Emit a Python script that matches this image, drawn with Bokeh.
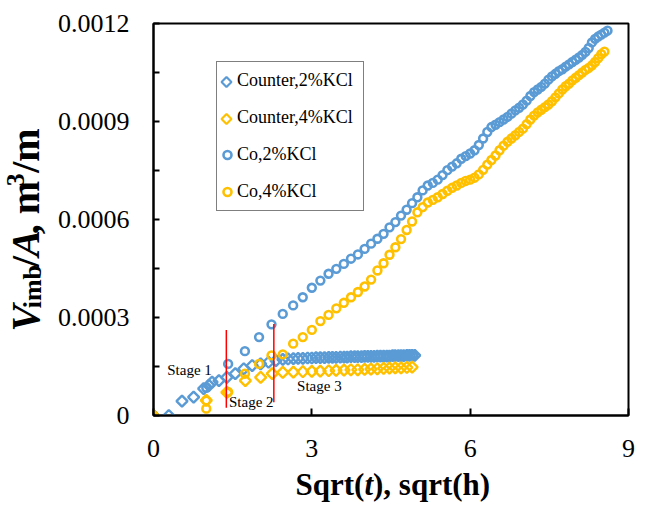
import numpy as np
from bokeh.plotting import figure
from bokeh.layouts import row, column
from bokeh.models import (Range1d, FixedTicker, PrintfTickFormatter, Legend, LegendItem)
from bokeh.embed import file_html
from bokeh.resources import INLINE
from bokeh.core.properties import value

# ---------------- data ----------------
# Counter-current, 2% KCl (blue diamonds)
counter2_x = [0, 0.29, 0.54, 0.76, 0.95, 1.05, 1.11, 1.24, 1.39, 1.55, 1.71, 1.87, 2.03, 2.18, 2.32, 2.45,
              2.55, 2.65, 2.74, 2.83, 2.92, 3.0, 3.08, 3.16, 3.24, 3.32, 3.39, 3.46, 3.54, 3.61, 3.67, 3.74,
              3.81, 3.87, 3.94, 4.0, 4.06, 4.12, 4.18, 4.24, 4.30, 4.36, 4.42, 4.47, 4.53, 4.58, 4.64, 4.69,
              4.74, 4.80, 4.85, 4.90, 4.95]
counter2_y = [0, 0, 0.000044, 0.000056, 0.000082, 0.000092, 0.000102, 0.000107, 0.000117, 0.000128, 0.000143,
              0.000153, 0.000158, 0.000163, 0.000168, 0.000172,
              0.000173, 0.000174, 0.000175, 0.000175, 0.000176, 0.000176, 0.000177, 0.000177, 0.000177, 0.000178,
              0.000178, 0.000178, 0.000179, 0.000179, 0.000179, 0.000180, 0.000180, 0.000180, 0.000180, 0.000181,
              0.000181, 0.000181, 0.000181, 0.000182, 0.000182, 0.000182, 0.000182, 0.000182, 0.000183, 0.000183,
              0.000183, 0.000183, 0.000183, 0.000184, 0.000184, 0.000184, 0.000184]

# Counter-current, 4% KCl (yellow diamonds)
counter4_x = [0, 1.0, 1.39, 1.74, 2.03, 2.25, 2.45, 2.65, 2.83, 3.0, 3.16, 3.32, 3.46, 3.61, 3.74, 3.87,
              4.0, 4.12, 4.24, 4.36, 4.47, 4.58, 4.69, 4.80, 4.90]
counter4_y = [0, 0.000046, 0.000071, 0.000107, 0.000117, 0.000128, 0.000132, 0.000133, 0.000134, 0.000135,
              0.000136, 0.000137, 0.000138, 0.000139, 0.000140, 0.000140, 0.000141, 0.000142, 0.000143,
              0.000144, 0.000145, 0.000146, 0.000146, 0.000147, 0.000148]

# Co-current, 2% KCl (blue circles)
co2_x = [0, 1.0, 1.414, 1.732, 2.0, 2.236, 2.449, 2.646, 2.828, 3.0, 3.162, 3.317, 3.464, 3.606, 3.742, 3.873,
         4.0, 4.123, 4.243, 4.359, 4.472, 4.583, 4.690, 4.796, 4.899, 5.0, 5.099, 5.196,
         5.292, 5.385, 5.477, 5.568, 5.657, 5.745, 5.831, 5.916, 6.0, 6.083, 6.164, 6.245, 6.325, 6.403,
         6.481, 6.557, 6.633, 6.708, 6.782, 6.856, 6.928, 7.0, 7.071, 7.141, 7.211, 7.280, 7.348, 7.416,
         7.483, 7.550, 7.616, 7.681, 7.746, 7.810, 7.874, 7.937, 8.0, 8.062, 8.124, 8.185, 8.246, 8.307,
         8.367, 8.426, 8.485, 8.544, 8.602]
co2_y = [0, 0.000085, 0.000158, 0.000197, 0.000240, 0.000279, 0.000311, 0.000337, 0.000362, 0.000391,
         0.000413, 0.000434, 0.000449, 0.000464, 0.000480, 0.000493, 0.000510, 0.000526, 0.000541, 0.000556,
         0.000576, 0.000592, 0.000612, 0.000630, 0.000650, 0.000668, 0.000689, 0.000704,
         0.000712, 0.000722, 0.000736, 0.000751, 0.000762, 0.000772, 0.000786, 0.000794, 0.000802, 0.000812,
         0.000828, 0.000848, 0.000868, 0.000883, 0.000890, 0.000898, 0.000906, 0.000914, 0.000924, 0.000934,
         0.000942, 0.000952, 0.000964, 0.000978, 0.000990, 0.000998, 0.001006, 0.001016, 0.001028, 0.001038,
         0.001046, 0.001054, 0.001060, 0.001068, 0.001075, 0.001082, 0.001089, 0.001096, 0.001104, 0.001113,
         0.001125, 0.001142, 0.001153, 0.001160, 0.001166, 0.001172, 0.001178]

# Co-current, 4% KCl (yellow circles)
co4_x = [0, 1.0, 1.0, 1.414, 1.732, 2.0, 2.236, 2.449, 2.646, 2.828, 3.0, 3.162, 3.317, 3.464, 3.606, 3.742,
         3.873, 4.0, 4.123, 4.243, 4.359, 4.472, 4.583, 4.690, 4.796, 4.899, 5.0, 5.099, 5.196,
         5.292, 5.385, 5.477, 5.568, 5.657, 5.745, 5.831, 5.916, 6.0, 6.083, 6.164, 6.245, 6.325, 6.403,
         6.481, 6.557, 6.633, 6.708, 6.782, 6.856, 6.928, 7.0, 7.071, 7.141, 7.211, 7.280, 7.348, 7.416,
         7.483, 7.550, 7.616, 7.681, 7.746, 7.810, 7.874, 7.937, 8.0, 8.062, 8.124, 8.185, 8.246, 8.307,
         8.367, 8.426, 8.485, 8.544]
co4_y = [0, 0.000021, 0.000046, 0.000072, 0.000128, 0.000158, 0.000184, 0.000187, 0.000220, 0.000240,
         0.000262, 0.000289, 0.000308, 0.000328, 0.000345, 0.000362, 0.000378, 0.000395, 0.000416, 0.000444,
         0.000466, 0.000492, 0.000515, 0.000540, 0.000568, 0.000594, 0.000622, 0.000638, 0.000652,
         0.000660, 0.000668, 0.000678, 0.000688, 0.000697, 0.000704, 0.000712, 0.000718, 0.000722, 0.000728,
         0.000738, 0.000752, 0.000768, 0.000782, 0.000796, 0.000812, 0.000826, 0.000838, 0.000848, 0.000858,
         0.000868, 0.000878, 0.000892, 0.000906, 0.000918, 0.000928, 0.000936, 0.000944, 0.000952, 0.000962,
         0.000974, 0.000986, 0.000998, 0.001008, 0.001016, 0.001026, 0.001034, 0.001042, 0.001050, 0.001058,
         0.001064, 0.001072, 0.001082, 0.001094, 0.001106, 0.001114]

series_labels = ["Counter,2%KCl", "Counter,4%KCl", "Co,2%KCl", "Co,4%KCl"]

# stage boundaries and labels
stage_x = [1.38, 2.28]
stage_y0 = [0.0000235, 0.0000408]
stage_y1 = [0.000262, 0.000280]
stage_text = ["Stage 1", "Stage 2", "Stage 3"]
stage_text_x = [0.26, 1.43, 2.72]
stage_text_y = [0.000138, 0.0000413, 0.0000888]

x_ticks = [0, 3, 6, 9]
y_ticks = [0, 0.0003, 0.0006, 0.0009, 0.0012]
y_minor = [0.00015, 0.00045, 0.00075, 0.00105]

BLUE = "#5B9BD5"
YELLOW = "#FFC000"
SERIF = "Liberation Serif"

# ---------------- layout geometry (pixels) ----------------
W, H = 640, 509
YW = 50                      # width of the y-title strip
FL, FT, FW, FH = 153, 23, 475, 392   # frame left/top/width/height on the page
MAIN_H = FT + FH + 52
XH = H - MAIN_H


def bare(width, height, xr, yr):
    f = figure(width=width, height=height, output_backend="svg", toolbar_location=None,
               x_range=Range1d(*xr), y_range=Range1d(*yr), x_axis_location=None, y_axis_location=None,
               min_border_left=0, min_border_right=0, min_border_top=0, min_border_bottom=0)
    f.outline_line_color = None
    f.xgrid.visible = False
    f.ygrid.visible = False
    f.background_fill_color = "white"
    f.border_fill_color = "white"
    return f


# ---------------- main chart ----------------
p = figure(width=W - YW, height=MAIN_H, output_backend="svg", toolbar_location=None,
           x_range=Range1d(0, 9), y_range=Range1d(0, 0.0012),
           min_border_left=FL - YW, min_border_right=W - YW - (FL - YW) - FW,
           min_border_top=FT, min_border_bottom=MAIN_H - FT - FH)
p.background_fill_color = "white"
p.border_fill_color = "white"
p.xgrid.visible = False
p.ygrid.visible = False
p.outline_line_color = "black"
p.outline_line_width = 2

for ax in (p.xaxis[0], p.yaxis[0]):
    ax.axis_line_width = 2
    ax.axis_line_color = "black"
    ax.major_tick_line_width = 2
    ax.major_tick_line_color = "black"
    ax.minor_tick_line_width = 2
    ax.minor_tick_line_color = "black"
    ax.major_tick_out = 0
    ax.minor_tick_out = 0
    ax.major_label_text_font = SERIF
    ax.major_label_text_font_size = "26px"
    ax.major_label_text_color = "black"

p.xaxis.ticker = FixedTicker(ticks=x_ticks)
p.xaxis.major_tick_in = 7
p.xaxis.minor_tick_in = 0
p.xaxis.major_label_standoff = 24

p.yaxis.ticker = FixedTicker(ticks=y_ticks, minor_ticks=y_minor)
p.yaxis.formatter = PrintfTickFormatter(format="%g")
p.yaxis.major_tick_in = 6
p.yaxis.minor_tick_in = 6
p.yaxis.major_label_standoff = 24

ang = np.pi / 4
r1 = p.scatter(counter2_x, counter2_y, marker="square", angle=ang, size=7.8, line_color=BLUE,
               line_width=2.4, fill_alpha=0)
r2 = p.scatter(counter4_x, counter4_y, marker="square", angle=ang, size=7.8, line_color=YELLOW,
               line_width=2.4, fill_alpha=0)
r3 = p.scatter(co2_x, co2_y, marker="circle", size=7.8, line_color=BLUE, line_width=2.6, fill_alpha=0)
r4 = p.scatter(co4_x, co4_y, marker="circle", size=7.8, line_color=YELLOW, line_width=2.6, fill_alpha=0)

p.segment(x0=stage_x, y0=stage_y0, x1=stage_x, y1=stage_y1, line_color="#FF0000", line_width=1.5)
p.text(x=stage_text_x, y=stage_text_y, text=stage_text, text_font=value(SERIF),
       text_font_size="15px", text_baseline="middle", text_align="left", text_color="black")

# legend (transparent background); the diamond symbols are drawn as glyphs under it,
# because Bokeh's legend ignores the marker angle
LEG_X, LEG_BOTTOM, ROW_H = 63, 204, 37


def px2x(px):
    return px / FW * 9.0


def px2y(py_from_bottom):
    return py_from_bottom / FH * 0.0012


leg_top = LEG_BOTTOM + 4 * ROW_H
mx = px2x(LEG_X + 10)
p.scatter(x=[mx], y=[px2y(leg_top - ROW_H / 2)], marker="square", angle=ang, size=7, line_color=BLUE,
          line_width=2.2, fill_alpha=0)
p.scatter(x=[mx], y=[px2y(leg_top - 1.5 * ROW_H)], marker="square", angle=ang, size=7, line_color=YELLOW,
          line_width=2.2, fill_alpha=0)

dummy2 = p.scatter(x=[], y=[], marker="square", line_alpha=0, fill_alpha=0)
dummy4 = p.scatter(x=[], y=[], marker="square", line_alpha=0, fill_alpha=0)
legend = Legend(items=[LegendItem(label=series_labels[0], renderers=[dummy2]),
                       LegendItem(label=series_labels[1], renderers=[dummy4]),
                       LegendItem(label=series_labels[2], renderers=[r3]),
                       LegendItem(label=series_labels[3], renderers=[r4])],
                location=(LEG_X, LEG_BOTTOM), orientation="vertical",
                label_text_font=SERIF, label_text_font_size="18px", label_text_color="black",
                glyph_width=20, glyph_height=ROW_H, label_height=ROW_H, spacing=0, padding=0, margin=0,
                label_standoff=0, label_width=126,
                border_line_color="black", border_line_width=1, background_fill_alpha=0)
p.add_layout(legend)

# ---------------- y title strip ----------------
YH = MAIN_H
yf = bare(YW, YH, (0, YW), (0, YH))
TS_Y = 40
SUB = 26
base_x = 25
pos = YH - 367
# (text, style, font px, baseline shift px, advance in px)
pieces = [("V", "bold italic", TS_Y, 0, 0.667 * TS_Y + 1),
          ("imb", "bold", SUB, 7, 1.667 * SUB + 6),
          ("/", "bold", TS_Y, 0, 0.278 * TS_Y + 1),
          ("A", "bold italic", TS_Y, 0, 0.667 * TS_Y),
          (", m", "bold", TS_Y, 0, 1.333 * TS_Y + 4),
          ("3", "bold", SUB, -10, 0.5 * SUB + 3),
          ("/m", "bold", TS_Y, 0, 1.111 * TS_Y)]
for txt, style, fs, dx, adv in pieces:
    yf.text(x=[base_x + dx], y=[pos], text=[txt], angle=np.pi / 2, text_font=value(SERIF),
            text_font_style=style, text_font_size=f"{fs}px", text_baseline="alphabetic",
            text_align="left", text_color="black")
    pos += adv

# ---------------- x title strip (full width) ----------------
xf = bare(W, XH, (0, W), (0, XH))
TS_X = 31
xpos = 295
xbase = H - 484
for txt, style, w in [("Sqrt(", "bold", 2.222), ("t", "bold italic", 0.278), ("), sqrt(h)", "bold", 3.777)]:
    xf.text(x=[xpos], y=[xbase], text=[txt], text_font=value(SERIF), text_font_style=style,
            text_font_size=f"{TS_X}px", text_baseline="alphabetic", text_align="left", text_color="black")
    xpos += w * TS_X

layout = column(row(yf, p), xf)
open("out.html", "w").write(file_html(layout, INLINE))
